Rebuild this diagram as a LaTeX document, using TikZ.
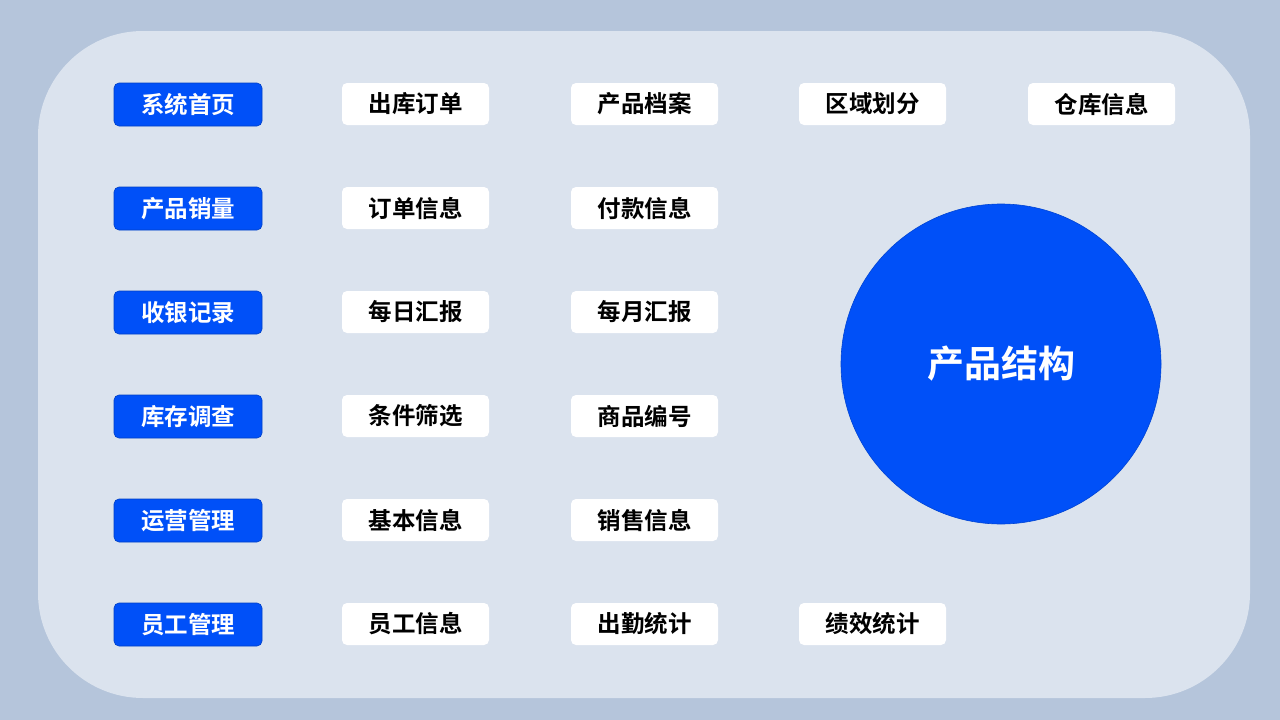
\documentclass[tikz,border=0pt]{standalone}
\usepackage{fontspec}
\newfontfamily\cjk{Noto Sans CJK SC Bold}
\definecolor{bgc}{HTML}{B5C5DB}
\definecolor{panelc}{HTML}{DBE3EE}
\definecolor{bluec}{HTML}{0050F8}
\tikzset{
  navbox/.style={fill=bluec, draw=bluec!80!black, line width=0.6pt, rounded corners=5pt, minimum width=148pt, minimum height=43pt, inner sep=0pt, text=white, font=\cjk\fontsize{23.5}{28}\selectfont},
  itembox/.style={fill=white, rounded corners=5pt, minimum width=147pt, minimum height=42pt, inner sep=0pt, text=black, font=\cjk\fontsize{23.5}{28}\selectfont},
}
\begin{document}
\begin{tikzpicture}[x=1pt,y=-1pt]
\fill[bgc] (0,0) rectangle (1280,720);
\useasboundingbox (0,0) rectangle (1280,720);
\fill[panelc, rounded corners=105pt] (38,31) rectangle (1250,698);
% circle
\node[circle, fill=bluec, draw=bluec!85!black, line width=0.6pt, minimum size=320pt, inner sep=0pt, text=white, font=\cjk\fontsize{37}{44}\selectfont] (center) at (1001,364) {产品结构};
% row 1
\node[navbox] (n1) at (188,104.5) {系统首页};
\node[itembox] (a1) at (415.5,104) {出库订单};
\node[itembox] (b1) at (644.5,104) {产品档案};
\node[itembox] (c1) at (872.5,104) {区域划分};
\node[itembox] (d1) at (1101.5,104) {仓库信息};
% row 2
\node[navbox] (n2) at (188,208.5) {产品销量};
\node[itembox] (a2) at (415.5,208) {订单信息};
\node[itembox] (b2) at (644.5,208) {付款信息};
% row 3
\node[navbox] (n3) at (188,312.5) {收银记录};
\node[itembox] (a3) at (415.5,312) {每日汇报};
\node[itembox] (b3) at (644.5,312) {每月汇报};
% row 4
\node[navbox] (n4) at (188,416.5) {库存调查};
\node[itembox] (a4) at (415.5,416) {条件筛选};
\node[itembox] (b4) at (644.5,416) {商品编号};
% row 5
\node[navbox] (n5) at (188,520.5) {运营管理};
\node[itembox] (a5) at (415.5,520) {基本信息};
\node[itembox] (b5) at (644.5,520) {销售信息};
% row 6
\node[navbox] (n6) at (188,624.5) {员工管理};
\node[itembox] (a6) at (415.5,624) {员工信息};
\node[itembox] (b6) at (644.5,624) {出勤统计};
\node[itembox] (c6) at (872.5,624) {绩效统计};
\end{tikzpicture}
\end{document}
